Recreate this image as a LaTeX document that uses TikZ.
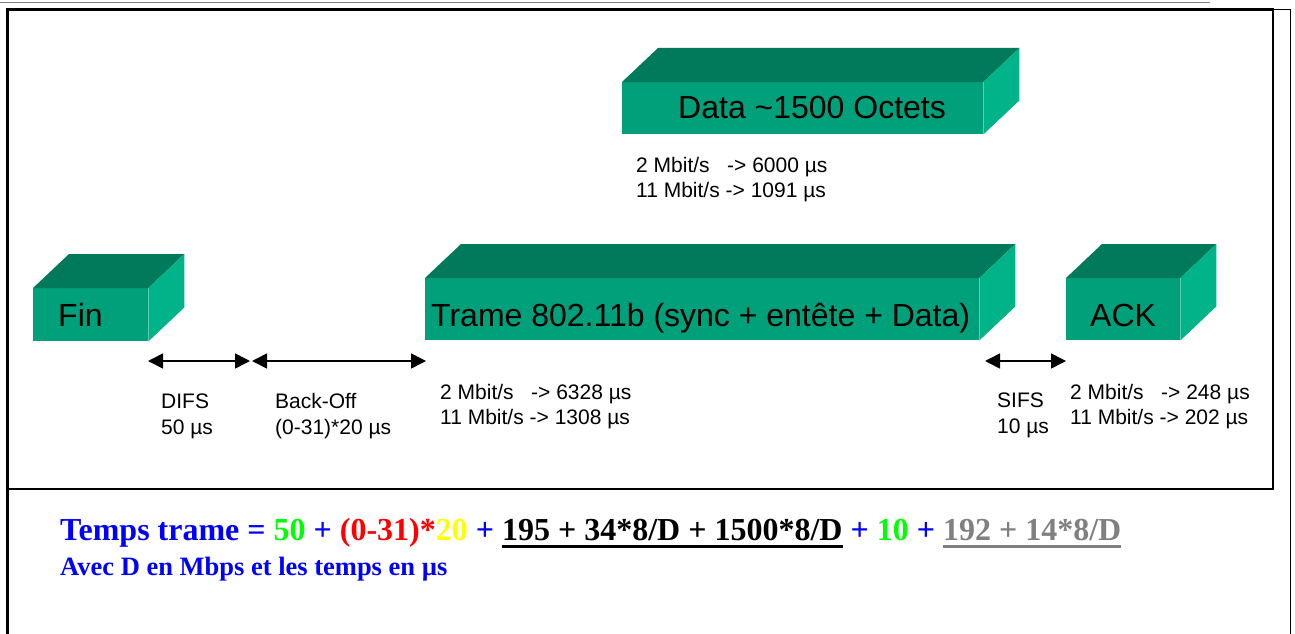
\documentclass[tikz,border=0pt]{standalone}
\usepackage{fontspec}
\setmainfont{Liberation Sans}
\newfontfamily\tnr{Liberation Serif}
\usetikzlibrary{arrows.meta}
\definecolor{frontc}{HTML}{00A07A}
\definecolor{topc}{HTML}{007A5A}
\definecolor{sidec}{HTML}{00B388}
\definecolor{fgreen}{HTML}{00FF00}
\definecolor{fred}{HTML}{FF0000}
\definecolor{fyellow}{HTML}{FFFF00}
\definecolor{fblue}{HTML}{0000FF}
\definecolor{fgray}{HTML}{808080}
\newcommand\myul[2]{\setbox0\hbox{#2}\rlap{\color{#1}\rule[-7.5pt]{\wd0}{3pt}}\box0\relax}
\newcommand\cubefaces[1]{%
  \fill[topc] (#1.north west) -- ++(36,-34) -- ([shift={(36,-34)}]#1.north east) -- (#1.north east) -- cycle;
  \fill[sidec] (#1.north east) -- ++(36,-34) -- ([shift={(36,-34)}]#1.south east) -- (#1.south east) -- cycle;}
\tikzset{
  front/.style={fill=frontc, draw=none, rectangle, inner sep=0pt, anchor=north west},
  bigtxt/.style={anchor=base west, inner sep=0pt, font=\fontsize{32}{38}\selectfont},
  smalltxt/.style={anchor=base west, inner sep=0pt, font=\fontsize{21}{25}\selectfont},
  dim/.style={{Triangle[length=15pt,width=15pt]}-{Triangle[length=15pt,width=15pt]}, line width=1.6pt},
}
\begin{document}
\begin{tikzpicture}[x=1pt,y=-1pt]
\useasboundingbox (0,0) rectangle (1295,634);
% frames
\draw[fgray, line width=1pt] (0,2.5) -- (1210,2.5);
\draw[line width=2.5pt] (7.5,634) -- (7.5,9.5) -- (1273,9.5) -- (1273,489) -- (7.5,489);
\draw[line width=1.3pt] (1273,9.5) -- (1290.5,9.5) -- (1290.5,634);
% boxes
\node[front, minimum width=361pt, minimum height=52pt] (data) at (622,82) {};
\cubefaces{data}
\node[front, minimum width=115pt, minimum height=53pt] (fin) at (33,288) {};
\cubefaces{fin}
\node[front, minimum width=554pt, minimum height=62pt] (trame) at (425,278) {};
\cubefaces{trame}
\node[front, minimum width=114pt, minimum height=62pt] (ack) at (1066,278) {};
\cubefaces{ack}
% box texts
\node[bigtxt] (datat) at (678,118) {Data \textasciitilde1500 Octets};
\node[bigtxt] (fint) at (58,326) {Fin};
\node[bigtxt] (tramet) at (431,326) {Trame 802.11b (sync + entête + Data)};
\node[bigtxt] (ackt) at (1090,326) {ACK};
% small texts
\node[smalltxt] (d1) at (636,172) {2 Mbit/s\ \ \ -> 6000 µs};
\node[smalltxt] (d2) at (636,197) {11 Mbit/s -> 1091 µs};
\node[smalltxt] (t1) at (440,399) {2 Mbit/s\ \ \ -> 6328 µs};
\node[smalltxt] (t2) at (440,424) {11 Mbit/s -> 1308 µs};
\node[smalltxt] (a1) at (1070,399) {2 Mbit/s\ \ \ -> 248 µs};
\node[smalltxt] (a2) at (1070,424) {11 Mbit/s -> 202 µs};
\node[smalltxt] (difs1) at (161,408) {DIFS};
\node[smalltxt] (difs2) at (161,434) {50 µs};
\node[smalltxt] (bo1) at (275,408) {Back-Off};
\node[smalltxt] (bo2) at (275,434) {(0-31)*20 µs};
\node[smalltxt] (sifs1) at (997,407) {SIFS};
\node[smalltxt] (sifs2) at (997,433) {10 µs};
% dimension arrows
\coordinate (difsA) at (148,361);
\coordinate (difsB) at (250,361);
\coordinate (boA) at (252,361);
\coordinate (boB) at (426,361);
\coordinate (sifsA) at (985,361);
\coordinate (sifsB) at (1066,361);
\draw[dim] (difsA) -- (difsB);
\draw[dim] (boA) -- (boB);
\draw[dim] (sifsA) -- (sifsB);
% formula
\node[anchor=base west, inner sep=0pt, font=\tnr\bfseries\fontsize{32}{38}\selectfont] (formula) at (60,540)
 {\textcolor{fblue}{Temps trame =} \textcolor{fgreen}{50} \textcolor{fblue}{+} \textcolor{fred}{(0-31)*}\textcolor{fyellow}{20} \textcolor{fblue}{+} \myul{black}{195 + 34*8/D + 1500*8/D} \textcolor{fblue}{+} \textcolor{fgreen}{10} \textcolor{fblue}{+} \myul{fgray}{\color{fgray}192 + 14*8/D}};
\node[anchor=base west, inner sep=0pt, text=fblue, font=\tnr\bfseries\fontsize{26.5}{32}\selectfont] (avec) at (60,575)
 {Avec D en Mbps et les temps en µs};
\end{tikzpicture}
\end{document}
